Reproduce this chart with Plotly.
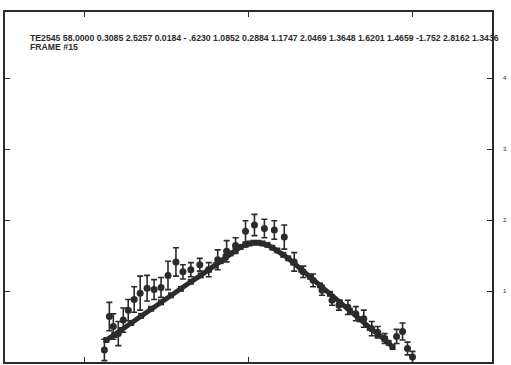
import plotly.graph_objects as go

# measured data points (channel, counts in arbitrary units) with errors
data_x = [100, 105, 109, 114, 119, 124, 130, 136, 143, 150, 157, 164, 172, 179, 187, 196, 205,
          214, 223, 232, 242, 251, 261, 271, 281, 291, 300, 310, 319, 329, 336, 345, 353, 361,
          369, 375, 382, 394, 400, 405, 410]
data_y = [0.17, 0.64, 0.50, 0.40, 0.59, 0.73, 0.88, 0.97, 1.04, 1.02, 1.05, 1.22, 1.41, 1.27,
          1.30, 1.37, 1.30, 1.44, 1.56, 1.64, 1.84, 1.93, 1.88, 1.86, 1.76, 1.41, 1.27, 1.15,
          1.01, 0.87, 0.80, 0.77, 0.68, 0.61, 0.47, 0.42, 0.33, 0.36, 0.43, 0.19, 0.07]
data_err = [0.15, 0.20, 0.18, 0.17, 0.17, 0.15, 0.18, 0.24, 0.18, 0.14, 0.14, 0.20, 0.20, 0.10,
            0.10, 0.09, 0.10, 0.14, 0.15, 0.11, 0.15, 0.15, 0.13, 0.13, 0.17, 0.13, 0.08, 0.09,
            0.07, 0.07, 0.07, 0.10, 0.10, 0.12, 0.10, 0.08, 0.07, 0.10, 0.12, 0.09, 0.08]

# fitted curve
fit_x = [102, 110, 117, 127, 137, 147, 157, 167, 177, 187, 197, 205, 212, 217, 222, 227, 232,
         237, 242, 246, 250, 255, 259, 264, 269, 274, 280, 285, 290, 298, 307, 317, 327, 337,
         347, 357, 367, 375, 382, 386, 390]
fit_y = [0.31, 0.38, 0.45, 0.55, 0.65, 0.75, 0.84, 0.94, 1.03, 1.13, 1.22, 1.30, 1.36, 1.42,
         1.48, 1.53, 1.58, 1.62, 1.65, 1.67, 1.68, 1.68, 1.67, 1.65, 1.61, 1.57, 1.51, 1.46,
         1.40, 1.30, 1.20, 1.08, 0.96, 0.84, 0.72, 0.60, 0.48, 0.39, 0.32, 0.27, 0.21]

x_ticks = [80, 245, 410]
y_ticks = [0, 1, 2, 3, 4]
y_tick_text = ["0", "1", "2.", "3.", "4"]

header1 = ("TE2545 58.0000 0.3085 2.5257 0.0184 - .6230 1.0852 0.2884 1.1747 2.0469 "
           "1.3648 1.6201 1.4659 -1.752 2.8162 1.3436")
header2 = "FRAME #15"

ink = "#2b2b2b"

fig = go.Figure()
fig.add_trace(go.Scatter(
    x=fit_x, y=fit_y, mode="lines+markers",
    line=dict(color=ink, width=5),
    marker=dict(symbol="square", size=6, color=ink),
    showlegend=False))
fig.add_trace(go.Scatter(
    x=data_x, y=data_y, mode="markers",
    marker=dict(symbol="circle", size=7, color=ink),
    error_y=dict(type="data", array=data_err, color=ink, thickness=1.6, width=3),
    showlegend=False))

fig.add_annotation(x=0.047, y=0.926, xref="paper", yref="paper", text=header1,
                   showarrow=False, xanchor="left", yanchor="middle",
                   font=dict(family="Liberation Sans", size=8.7, color=ink, weight="bold"))
fig.add_annotation(x=0.047, y=0.899, xref="paper", yref="paper", text=header2,
                   showarrow=False, xanchor="left", yanchor="middle",
                   font=dict(family="Liberation Sans", size=8.7, color=ink, weight="bold"))
fig.add_annotation(x=1.0, y=5, xref="paper", yref="y", text="5", showarrow=False,
                   xanchor="left", xshift=10, yanchor="middle",
                   font=dict(family="Liberation Sans", size=6, color=ink))

fig.update_xaxes(range=[0, 490], tickvals=x_ticks, showticklabels=False,
                 ticks="inside", ticklen=5, tickcolor=ink, tickwidth=1.2,
                 showline=True, linecolor=ink, linewidth=1.5, mirror="ticks",
                 showgrid=False, zeroline=False)
fig.update_yaxes(range=[0, 4.93], tickvals=y_ticks, ticktext=y_tick_text, side="right",
                 ticks="inside", ticklen=5, tickcolor=ink, tickwidth=1.2,
                 tickfont=dict(family="Liberation Sans", size=6, color=ink),
                 ticklabelstandoff=8,
                 showline=True, linecolor=ink, linewidth=1.5, mirror="ticks",
                 showgrid=False, zeroline=False)

fig.update_layout(width=511, height=365, margin=dict(l=3, r=18, t=12, b=3),
                  plot_bgcolor="white", paper_bgcolor="white")

fig.write_html("out.html")
